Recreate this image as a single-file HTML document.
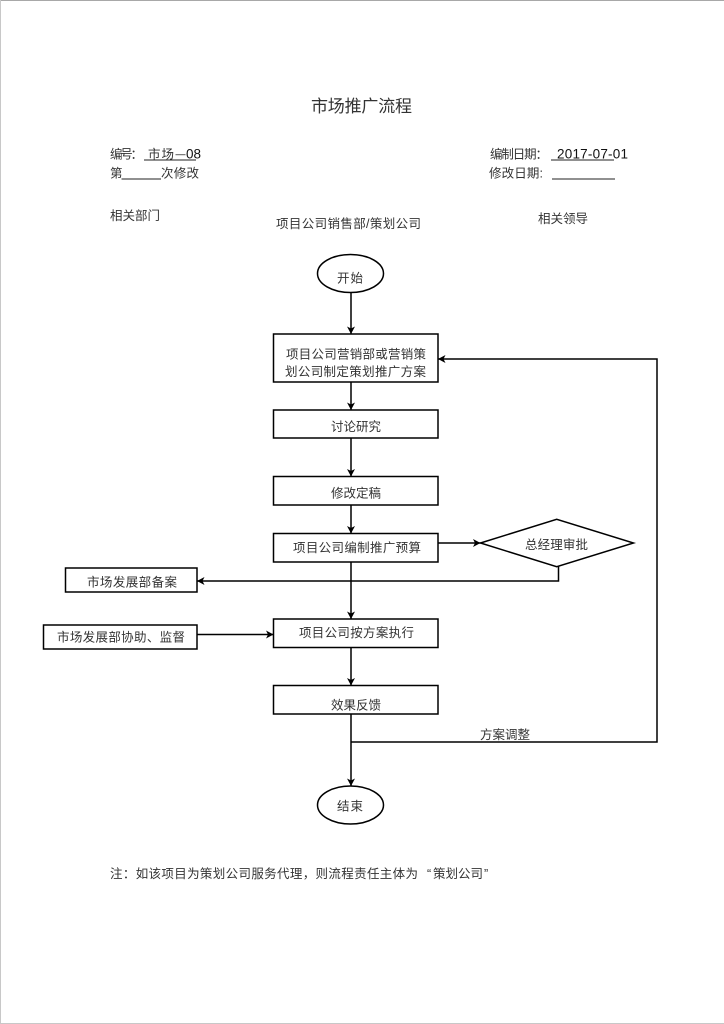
<!DOCTYPE html>
<html lang="zh">
<head>
<meta charset="utf-8">
<title>市场推广流程</title>
<style>
html,body{margin:0;padding:0;background:#fff;}
svg{display:block;}
text{font-family:"Liberation Sans","Noto Sans CJK SC",sans-serif;font-size:12.5px;fill:#333;}
.l{font-family:"Liberation Sans",sans-serif;font-size:13.5px;fill:#111;}
</style>
</head>
<body>
<svg width="724" height="1024" viewBox="0 0 724 1024" xmlns="http://www.w3.org/2000/svg">
<defs>
<marker id="a" markerUnits="userSpaceOnUse" markerWidth="10" markerHeight="10" refX="7.500" refY="4.500" orient="auto">
<path d="M0,0.500 L7.500,4.500 L0,8.500 L2,4.500 Z" fill="#000"/>
</marker>
</defs>
<rect width="724" height="1024" fill="#fff"/>
<rect x="0" y="0" width="724" height="1" fill="#a8a8a8"/>
<rect x="0" y="0" width="1" height="1024" fill="#c8c8c8"/>
<rect x="0" y="1023" width="724" height="1" fill="#c8c8c8"/>

<text x="311" y="112" style="font-size:17px" textLength="101" lengthAdjust="spacing">市场推广流程</text>

<text x="110" y="158.500" textLength="33">编号：</text>
<text x="148" y="158.500" textLength="26">市场</text>
<text class="l" x="175.500" y="157.500" style="font-size:10px;fill:#111">—</text>
<text class="l" x="186" y="158.500">08</text>
<rect x="144" y="159.500" width="52" height="1" fill="#222"/>
<text x="110" y="177.500">第</text>
<rect x="121.500" y="178.500" width="39.500" height="1" fill="#222"/>
<text x="161" y="177.500" textLength="38">次修改</text>

<text x="490" y="158.500" textLength="58">编制日期：</text>
<text class="l" x="557" y="158.500" textLength="71" lengthAdjust="spacing">2017-07-01</text>
<rect x="551" y="159.500" width="63" height="1" fill="#222"/>
<text x="489" y="177.500" textLength="54">修改日期:</text>
<rect x="552" y="178.500" width="63" height="1" fill="#222"/>

<text x="110" y="220" textLength="50">相关部门</text>
<text x="276" y="228" textLength="145">项目公司销售部/策划公司</text>
<text x="538" y="223" textLength="50">相关领导</text>

<g fill="#fff" stroke="#000" stroke-width="1.500">
<ellipse cx="350.500" cy="273.500" rx="33" ry="19"/>
<rect x="273.500" y="334" width="164.500" height="48"/>
<rect x="273.500" y="410" width="164.500" height="28"/>
<rect x="273.500" y="476.500" width="164.500" height="28.500"/>
<rect x="273.500" y="533.500" width="164.500" height="28.500"/>
<rect x="273.500" y="619" width="164.500" height="28.500"/>
<rect x="273.500" y="685.500" width="164.500" height="28.500"/>
<rect x="65.500" y="568" width="131.500" height="24"/>
<rect x="43.500" y="625" width="153.500" height="24"/>
<polygon points="480.500,543 556.700,519.300 633.500,543 556.700,566.700"/>
<ellipse cx="350.500" cy="805" rx="33" ry="19"/>
</g>

<g fill="none" stroke="#000" stroke-width="1.500">
<line x1="351" y1="292.500" x2="351" y2="334" marker-end="url(#a)"/>
<line x1="351" y1="382" x2="351" y2="410" marker-end="url(#a)"/>
<line x1="351" y1="438" x2="351" y2="476.500" marker-end="url(#a)"/>
<line x1="351" y1="505" x2="351" y2="533.500" marker-end="url(#a)"/>
<line x1="351" y1="562" x2="351" y2="581"/>
<line x1="351" y1="581" x2="351" y2="619" marker-end="url(#a)"/>
<line x1="351" y1="647.500" x2="351" y2="685.500" marker-end="url(#a)"/>
<line x1="351" y1="714" x2="351" y2="786" marker-end="url(#a)"/>
<line x1="438" y1="543" x2="480.500" y2="543" marker-end="url(#a)"/>
<polyline points="558.500,566.500 558.500,581 197,581" marker-end="url(#a)"/>
<line x1="197" y1="634.500" x2="273.500" y2="634.500" marker-end="url(#a)"/>
<polyline points="351,742 657,742 657,359 438,359" marker-end="url(#a)"/>
</g>

<text x="337" y="282.500" textLength="26">开始</text>
<text x="286" y="358.500" textLength="140">项目公司营销部或营销策</text>
<text x="285" y="376" textLength="141">划公司制定策划推广方案</text>
<text x="331" y="431" textLength="50">讨论研究</text>
<text x="331" y="497.500" textLength="50">修改定稿</text>
<text x="293" y="552" textLength="128">项目公司编制推广预算</text>
<text x="525" y="549" textLength="63">总经理审批</text>
<text x="87" y="586.500" textLength="90">市场发展部备案</text>
<text x="57" y="641.500" textLength="128">市场发展部协助、监督</text>
<text x="299" y="637" textLength="115">项目公司按方案执行</text>
<text x="331" y="709.500" textLength="50">效果反馈</text>
<text x="480" y="739" textLength="50">方案调整</text>
<text x="337" y="810.500" textLength="26">结束</text>
<text x="110" y="878" textLength="308">注：如该项目为策划公司服务代理，则流程责任主体为</text>
<text x="427" y="878">“</text>
<text x="433" y="878" textLength="50">策划公司</text>
<text x="484" y="878">”</text>
</svg>
</body>
</html>
